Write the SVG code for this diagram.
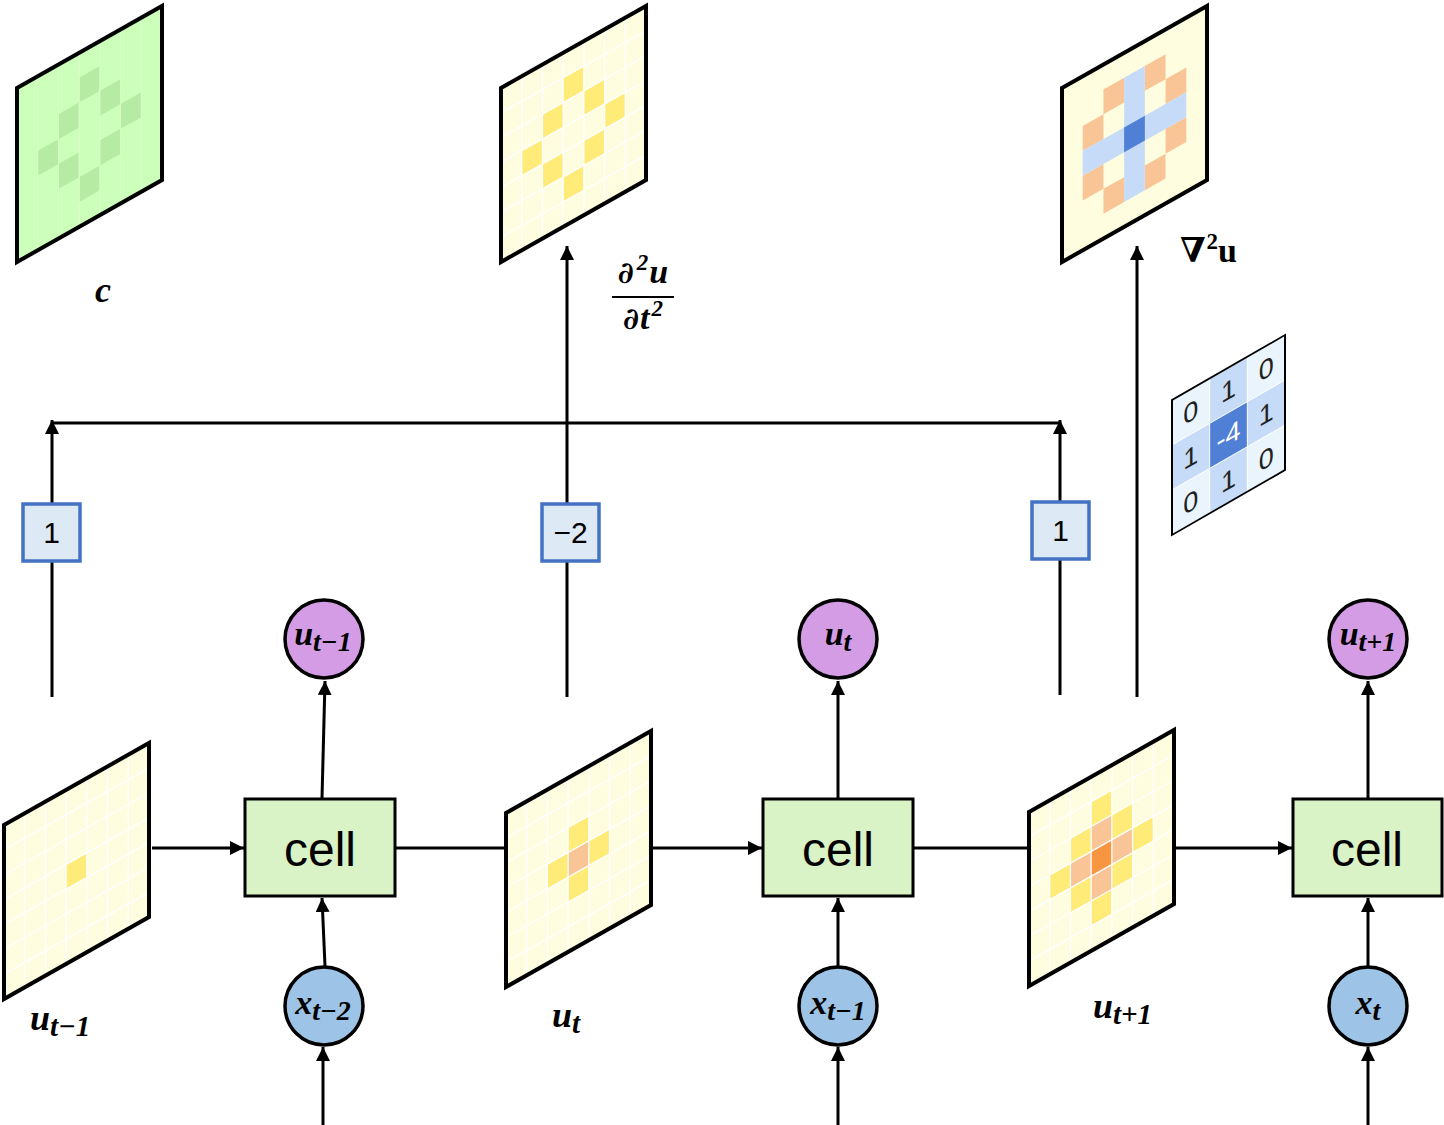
<svg xmlns="http://www.w3.org/2000/svg" width="1444" height="1125" viewBox="0 0 1444 1125">
<defs>
<marker id="ah" markerUnits="userSpaceOnUse" markerWidth="16" markerHeight="16" refX="14" refY="7" orient="auto">
<path d="M0,0 L14,7 L0,14 z" fill="#000"/>
</marker>
<style>
.ln{stroke:#000;stroke-width:3;fill:none}
.ar{marker-end:url(#ah)}
.out{fill:none;stroke:#000;stroke-width:4;vector-effect:non-scaling-stroke;stroke-linejoin:miter}
.gl{fill:none;stroke:#fff;stroke-width:1.3;vector-effect:non-scaling-stroke}
.glg{fill:none;stroke:#dcffcc;stroke-width:1;vector-effect:non-scaling-stroke}
.bgy{fill:#fffde0}
.bgg{fill:#ccffba}
.cg{fill:#b6eba3}
.y{fill:#ffeb78}
.p{fill:#f9c597}
.o{fill:#f79540}
.lb{fill:#c6dbf7}
.db{fill:#5080d6}
.cell rect{fill:#d9f2c6;stroke:#000;stroke-width:3}
.cell text{font-family:"Liberation Sans",Arial,sans-serif;font-size:48px;fill:#000;text-anchor:middle}
.uc circle{fill:#d59ce6;stroke:#000;stroke-width:3.5}
.xc circle{fill:#9dc3e6;stroke:#000;stroke-width:3.5}
.m{font-family:"Liberation Serif","DejaVu Serif",serif;font-weight:bold;font-style:italic;fill:#000}
.d{font-family:"DejaVu Serif",serif;font-weight:bold;font-style:italic}
.wb rect{fill:#dee9f6;stroke:#4472c4;stroke-width:3.5}
.wb text{font-family:"Liberation Sans",Arial,sans-serif;font-size:30px;fill:#000;text-anchor:middle}
.kt{font-family:"Liberation Sans",Arial,sans-serif;font-size:27px;fill:#222;text-anchor:middle}
</style>
</defs>
<rect width="1444" height="1125" fill="#fff"/>

<g id="connectors">
<path class="ln ar" d="M52,697 V420"/>
<path class="ln" d="M52,423 H1060"/>
<path class="ln ar" d="M567,697 V246"/>
<path class="ln ar" d="M1060,695 V420"/>
<path class="ln ar" d="M1137,697 V246"/>
<path class="ln ar" d="M152,848 H244"/>
<path class="ln" d="M395,848 H506"/>
<path class="ln ar" d="M650,848 H762"/>
<path class="ln" d="M913,848 H1029"/>
<path class="ln ar" d="M1174,848 H1292"/>
<path class="ln ar" d="M322,798 L325,681"/>
<path class="ln ar" d="M838,798 V681"/>
<path class="ln ar" d="M1368,798 V681"/>
<path class="ln ar" d="M325,966 L322,898"/>
<path class="ln ar" d="M838,966 V898"/>
<path class="ln ar" d="M1368,966 V898"/>
<path class="ln ar" d="M323,1125 V1047"/>
<path class="ln ar" d="M838,1125 V1047"/>
<path class="ln ar" d="M1368,1125 V1047"/>
</g>

<!-- c grid -->
<g id="grid-c">
<g transform="matrix(20.714,-11.714,0,24.857,17,88)">
<rect class="bgg" width="7" height="7"/>
<g class="cg">
<rect x="3" y="1" width="1" height="1"/><rect x="4" y="2" width="1" height="1"/><rect x="5" y="3" width="1" height="1"/><rect x="4" y="4" width="1" height="1"/>
<rect x="3" y="5" width="1" height="1"/><rect x="2" y="4" width="1" height="1"/><rect x="1" y="3" width="1" height="1"/><rect x="2" y="2" width="1" height="1"/>
</g>
<path class="glg" d="M1,0V7M2,0V7M3,0V7M4,0V7M5,0V7M6,0V7"/>
<rect class="out" width="7" height="7"/>
</g>
<text class="m" x="103" y="302" font-size="36" text-anchor="middle">c</text>
</g>

<!-- d2u/dt2 grid -->
<g id="grid-d2u">
<g transform="matrix(20.714,-11.714,0,24.857,501,88)">
<rect class="bgy" width="7" height="7"/>
<g class="y">
<rect x="3" y="1" width="1" height="1"/><rect x="4" y="2" width="1" height="1"/><rect x="5" y="3" width="1" height="1"/><rect x="4" y="4" width="1" height="1"/>
<rect x="3" y="5" width="1" height="1"/><rect x="2" y="4" width="1" height="1"/><rect x="1" y="3" width="1" height="1"/><rect x="2" y="2" width="1" height="1"/>
</g>
<path class="gl" d="M1,0V7M2,0V7M3,0V7M4,0V7M5,0V7M6,0V7M0,1H7M0,2H7M0,3H7M0,4H7M0,5H7M0,6H7"/>
<rect class="out" width="7" height="7"/>
</g>
<text class="m" x="643" y="283" font-size="34" text-anchor="middle"><tspan class="d" font-size="30">∂</tspan><tspan font-size="23" dx="3" dy="-13">2</tspan><tspan dx="1" dy="13">u</tspan></text>
<line x1="612" y1="297" x2="674" y2="297" stroke="#000" stroke-width="2"/>
<text class="m" x="643" y="329" font-size="34" text-anchor="middle"><tspan class="d" font-size="30">∂</tspan><tspan dx="1">t</tspan><tspan font-size="23" dx="2" dy="-13">2</tspan></text>
</g>

<!-- laplacian grid -->
<g id="grid-lap">
<g transform="matrix(20.714,-11.714,0,24.857,1062,88)">
<rect class="bgy" width="7" height="7"/>
<g class="p">
<rect x="2" y="1" width="1" height="1"/><rect x="4" y="1" width="1" height="1"/><rect x="1" y="2" width="1" height="1"/><rect x="5" y="2" width="1" height="1"/>
<rect x="1" y="4" width="1" height="1"/><rect x="5" y="4" width="1" height="1"/><rect x="2" y="5" width="1" height="1"/><rect x="4" y="5" width="1" height="1"/>
</g>
<rect class="lb" x="3" y="1" width="1" height="5"/>
<rect class="lb" x="1" y="3" width="5" height="1"/>
<rect class="db" x="3" y="3" width="1" height="1"/>
<rect class="out" width="7" height="7"/>
</g>
<text x="1180" y="262" font-family="'Liberation Serif','DejaVu Serif',serif" font-weight="bold" font-size="34">∇<tspan font-size="23" dx="1" dy="-13">2</tspan><tspan dy="13">u</tspan></text>
</g>

<!-- kernel -->
<g id="kernel" transform="matrix(1,-0.575,0,1,1172,400)">
<rect x="0" y="0" width="113" height="135" fill="#eaf4fd"/>
<rect x="37.67" y="0" width="37.67" height="135" fill="#c6dbf7"/>
<rect x="0" y="45" width="113" height="45" fill="#c6dbf7"/>
<rect x="37.67" y="45" width="37.67" height="45" fill="#5080d6"/>
<path d="M37.67,0V135M75.33,0V135M0,45H113M0,90H113" stroke="#fff" stroke-width="1" fill="none"/>
<rect x="0" y="0" width="113" height="135" fill="none" stroke="#000" stroke-width="2"/>
<text class="kt" x="18.8" y="32">0</text>
<text class="kt" x="56.5" y="32">1</text>
<text class="kt" x="94.2" y="32">0</text>
<text class="kt" x="18.8" y="77">1</text>
<text class="kt" x="56.5" y="77" style="fill:#fff">-4</text>
<text class="kt" x="94.2" y="77">1</text>
<text class="kt" x="18.8" y="122">0</text>
<text class="kt" x="56.5" y="122">1</text>
<text class="kt" x="94.2" y="122">0</text>
</g>

<!-- weight boxes -->
<g id="w1" class="wb"><rect x="23" y="504" width="57" height="57"/><text x="51.5" y="543">1</text></g>
<g id="w2" class="wb"><rect x="542" y="504" width="57" height="57"/><text x="570.5" y="543">−2</text></g>
<g id="w3" class="wb"><rect x="1032" y="502" width="57" height="57"/><text x="1060.5" y="541">1</text></g>

<!-- u_{t-1} grid -->
<g id="grid-ut-1">
<g transform="matrix(20.714,-11.714,0,24.857,4,825)">
<rect class="bgy" width="7" height="7"/>
<rect class="y" x="3" y="3" width="1" height="1"/>
<path class="gl" d="M1,0V7M2,0V7M3,0V7M4,0V7M5,0V7M6,0V7M0,1H7M0,2H7M0,3H7M0,4H7M0,5H7M0,6H7"/>
<rect class="out" width="7" height="7"/>
</g>
<text class="m" x="30" y="1030" font-size="36">u<tspan font-size="29" dy="6">t−1</tspan></text>
</g>

<!-- u_t grid -->
<g id="grid-ut">
<g transform="matrix(20.714,-11.714,0,24.857,506,813)">
<rect class="bgy" width="7" height="7"/>
<g class="y">
<rect x="3" y="2" width="1" height="1"/><rect x="2" y="3" width="1" height="1"/><rect x="4" y="3" width="1" height="1"/><rect x="3" y="4" width="1" height="1"/>
</g>
<rect class="p" x="3" y="3" width="1" height="1"/>
<path class="gl" d="M1,0V7M2,0V7M3,0V7M4,0V7M5,0V7M6,0V7M0,1H7M0,2H7M0,3H7M0,4H7M0,5H7M0,6H7"/>
<rect class="out" width="7" height="7"/>
</g>
<text class="m" x="552" y="1027" font-size="36">u<tspan font-size="29" dy="6">t</tspan></text>
</g>

<!-- u_{t+1} grid -->
<g id="grid-ut+1">
<g transform="matrix(20.714,-11.714,0,24.857,1029,812)">
<rect class="bgy" width="7" height="7"/>
<g class="y">
<rect x="3" y="1" width="1" height="1"/><rect x="4" y="2" width="1" height="1"/><rect x="5" y="3" width="1" height="1"/><rect x="4" y="4" width="1" height="1"/>
<rect x="3" y="5" width="1" height="1"/><rect x="2" y="4" width="1" height="1"/><rect x="1" y="3" width="1" height="1"/><rect x="2" y="2" width="1" height="1"/>
</g>
<g class="p">
<rect x="3" y="2" width="1" height="1"/><rect x="2" y="3" width="1" height="1"/><rect x="4" y="3" width="1" height="1"/><rect x="3" y="4" width="1" height="1"/>
</g>
<rect class="o" x="3" y="3" width="1" height="1"/>
<path class="gl" d="M1,0V7M2,0V7M3,0V7M4,0V7M5,0V7M6,0V7M0,1H7M0,2H7M0,3H7M0,4H7M0,5H7M0,6H7"/>
<rect class="out" width="7" height="7"/>
</g>
<text class="m" x="1093" y="1018" font-size="36">u<tspan font-size="29" dy="6">t+1</tspan></text>
</g>

<!-- cells -->
<g id="cell1" class="cell"><rect x="245" y="799" width="150" height="97"/><text x="320" y="866">cell</text></g>
<g id="cell2" class="cell"><rect x="763" y="799" width="150" height="97"/><text x="838" y="866">cell</text></g>
<g id="cell3" class="cell"><rect x="1293" y="799" width="149" height="97"/><text x="1367" y="866">cell</text></g>

<!-- output circles -->
<g id="out1" class="uc"><circle cx="324" cy="639" r="39"/><text class="m" x="323" y="645" font-size="34" text-anchor="middle">u<tspan font-size="28" dy="6">t−1</tspan></text></g>
<g id="out2" class="uc"><circle cx="838" cy="639" r="39"/><text class="m" x="838" y="645" font-size="34" text-anchor="middle">u<tspan font-size="28" dy="6">t</tspan></text></g>
<g id="out3" class="uc"><circle cx="1368" cy="639" r="39"/><text class="m" x="1368" y="645" font-size="34" text-anchor="middle">u<tspan font-size="28" dy="6">t+1</tspan></text></g>

<!-- input circles -->
<g id="in1" class="xc"><circle cx="324" cy="1006" r="39"/><text class="m" x="323" y="1014" font-size="34" text-anchor="middle">x<tspan font-size="28" dy="6">t−2</tspan></text></g>
<g id="in2" class="xc"><circle cx="838" cy="1006" r="39"/><text class="m" x="838" y="1014" font-size="34" text-anchor="middle">x<tspan font-size="28" dy="6">t−1</tspan></text></g>
<g id="in3" class="xc"><circle cx="1368" cy="1006" r="39"/><text class="m" x="1368" y="1014" font-size="34" text-anchor="middle">x<tspan font-size="28" dy="6">t</tspan></text></g>
</svg>
